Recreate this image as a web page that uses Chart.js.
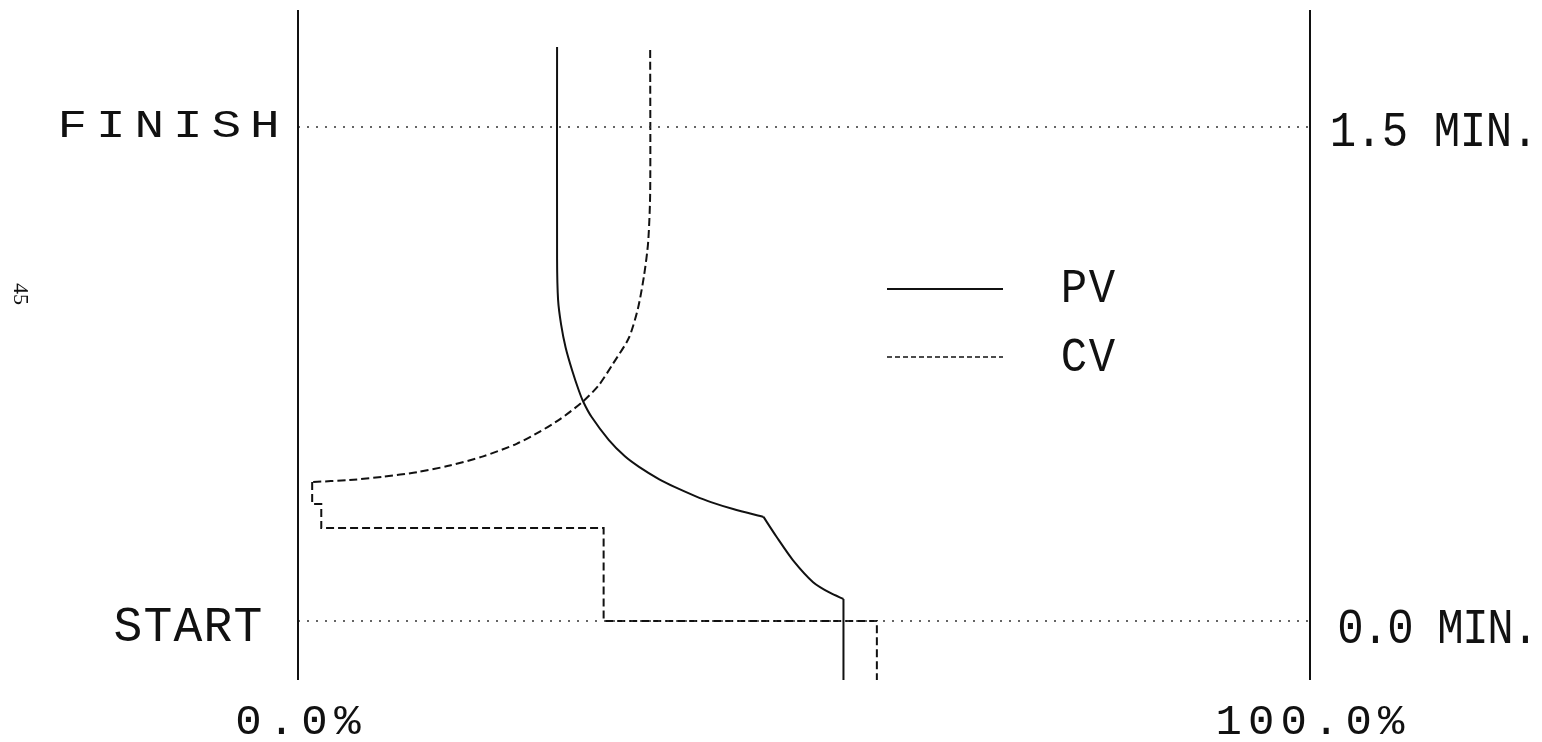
<!DOCTYPE html>
<html>
<head>
<meta charset="utf-8">
<title>PV / CV response</title>
<script src="https://cdn.jsdelivr.net/npm/chart.js@4.4.1/dist/chart.umd.min.js"></script>
<style>
  html, body { margin: 0; padding: 0; background: #ffffff; }
  #wrap { width: 1542px; height: 742px; }
  canvas { display: block; }
</style>
</head>
<body>
<div id="wrap"><canvas id="chart" width="1542" height="742"></canvas></div>
<script>
// Process variable (PV) trace: percent of span vs elapsed time in minutes
const pvPercent = [25.6, 25.6, 25.7, 26.0, 26.45, 27.1, 27.75, 28.2, 29.0, 30.7, 32.3, 33.7, 35.7, 37.2, 39.2, 40.8, 43.0, 46.0, 47.3, 48.9, 50.9, 52.6, 53.9, 53.9];
const pvMinutes = [1.743, 1.100, 0.975, 0.900, 0.830, 0.760, 0.700, 0.665, 0.620, 0.550, 0.500, 0.468, 0.430, 0.407, 0.380, 0.361, 0.340, 0.316, 0.255, 0.185, 0.118, 0.085, 0.067, -0.179];
// indices where the PV trace has a corner (smooth pieces run between them)
const pvCorners = [0, 17, 22, 23];

// Controller output (CV) trace
const cvPercent = [34.8, 34.8, 34.6, 34.2, 33.6, 32.7, 31.1, 29.7, 28.1, 25.9, 23.9, 21.6, 18.3, 15.0, 11.8, 8.4, 5.1, 1.4, 1.4, 2.3, 2.3, 30.2, 30.2, 57.2, 57.2];
const cvMinutes = [1.734, 1.300, 1.150, 1.050, 0.950, 0.860, 0.780, 0.715, 0.665, 0.613, 0.575, 0.538, 0.500, 0.472, 0.452, 0.438, 0.428, 0.422, 0.355, 0.355, 0.282, 0.282, 0.000, 0.000, -0.179];
// the curved part ends where the stepped part begins
const cvCorners = [0, 17, 24];

// Axis extents and marker times
const percentRange = [0, 100];
const minuteRange = [-0.1792, 1.8553];
const startMinute = 0.0;
const finishMinute = 1.5;

// Text drawn around the plot
const percentTickLabels = ['0.0%', '100.0%'];
const leftTimeLabels = ['START', 'FINISH'];
const rightTimeLabels = ['0.0 MIN.', '1.5 MIN.'];
const seriesNames = ['PV', 'CV'];
const pageNumber = '45';

const INK = '#111111';
const MONO = '"Liberation Mono", "DejaVu Sans Mono", monospace';

function toPoints(xs, ys, from, to) {
  const out = [];
  for (let i = from; i <= to; i++) out.push({ x: xs[i], y: ys[i] });
  return out;
}

// Draw text one glyph per fixed-width cell (typewriter style)
function drawCells(ctx, text, left, baseline, advance, size, stretchX, stretchY) {
  ctx.save();
  ctx.fillStyle = INK;
  ctx.font = size + 'px ' + MONO;
  ctx.textAlign = 'center';
  ctx.textBaseline = 'alphabetic';
  for (let i = 0; i < text.length; i++) {
    ctx.save();
    ctx.translate(left + advance * (i + 0.5), baseline);
    ctx.scale(stretchX, stretchY);
    ctx.fillText(text[i], 0, 0);
    ctx.restore();
  }
  ctx.restore();
}

const paperPlugin = {
  id: 'paper',
  beforeDraw(chart) {
    const ctx = chart.ctx;
    ctx.save();
    ctx.fillStyle = '#ffffff';
    ctx.fillRect(0, 0, chart.width, chart.height);
    ctx.restore();
  },
  afterDraw(chart) {
    const ctx = chart.ctx;
    const xs = chart.scales.x;
    const ys = chart.scales.y;
    const area = chart.chartArea;
    const x0 = xs.getPixelForValue(percentRange[0]);
    const x1 = xs.getPixelForValue(percentRange[1]);
    const yStart = ys.getPixelForValue(startMinute);
    const yFinish = ys.getPixelForValue(finishMinute);

    // side frame lines
    ctx.save();
    ctx.strokeStyle = INK;
    ctx.lineWidth = 2;
    ctx.beginPath();
    ctx.moveTo(x0, area.top);
    ctx.lineTo(x0, area.bottom);
    ctx.moveTo(x1, area.top);
    ctx.lineTo(x1, area.bottom);
    ctx.stroke();
    ctx.restore();

    // left marker labels
    drawCells(ctx, leftTimeLabels[0], x0 - 185, yStart + 20, 30, 48, 1.0, 1.05);
    drawCells(ctx, leftTimeLabels[1], x0 - 245, yFinish + 10, 38.5, 38, 1.3, 1.0);

    // right time labels
    drawCells(ctx, rightTimeLabels[0], x1 + 28, yStart + 22, 25, 44, 1.0, 1.15);
    drawCells(ctx, rightTimeLabels[1], x1 + 20, yFinish + 19, 26, 44, 1.0, 1.15);

    // percent labels under each side
    const pctBase = area.bottom + 54;
    drawCells(ctx, percentTickLabels[0], x0 - 4 * 33 / 2, pctBase, 33, 40, 1.1, 1.05);
    drawCells(ctx, percentTickLabels[1], x1 - 6 * 32.5 / 2, pctBase, 32.5, 40, 1.1, 1.05);

    // legend
    ctx.save();
    ctx.strokeStyle = INK;
    ctx.lineWidth = 1.8;
    ctx.beginPath();
    ctx.moveTo(887, 289);
    ctx.lineTo(1003, 289);
    ctx.stroke();
    ctx.setLineDash([5, 3]);
    ctx.lineWidth = 1.6;
    ctx.beginPath();
    ctx.moveTo(887, 357);
    ctx.lineTo(1003, 357);
    ctx.stroke();
    ctx.restore();
    drawCells(ctx, seriesNames[0], 1060, 302, 28, 44, 1.0, 1.1);
    drawCells(ctx, seriesNames[1], 1060, 371, 28, 44, 1.0, 1.1);

    // page number along the margin
    ctx.save();
    ctx.fillStyle = INK;
    ctx.font = '22px "Liberation Serif", serif';
    ctx.translate(20, 294);
    ctx.rotate(Math.PI / 2);
    ctx.textAlign = 'center';
    ctx.textBaseline = 'middle';
    ctx.fillText(pageNumber, 0, 0);
    ctx.restore();
  }
};

const dotted = { borderColor: '#333333', borderWidth: 1.5, borderDash: [2, 7], pointRadius: 0, showLine: true, tension: 0 };

function tracePieces(name, xs, ys, corners, dash, smooth) {
  const sets = [];
  for (let k = 0; k < corners.length - 1; k++) {
    sets.push({
      label: name,
      data: toPoints(xs, ys, corners[k], corners[k + 1]),
      showLine: true,
      borderColor: INK,
      borderWidth: 2,
      borderDash: dash,
      pointRadius: 0,
      tension: smooth[k] ? 0.25 : 0,
      borderJoinStyle: 'miter'
    });
  }
  return sets;
}

new Chart(document.getElementById('chart'), {
  type: 'scatter',
  data: {
    datasets: [
      Object.assign({ label: 'FINISH', data: toPoints(percentRange, [finishMinute, finishMinute], 0, 1) }, dotted),
      Object.assign({ label: 'START', data: toPoints(percentRange, [startMinute, startMinute], 0, 1) }, dotted)
    ].concat(
      tracePieces(seriesNames[0], pvPercent, pvMinutes, pvCorners, [], [true, true, false]),
      tracePieces(seriesNames[1], cvPercent, cvMinutes, cvCorners, [8, 4], [true, false])
    )
  },
  options: {
    responsive: false,
    animation: false,
    devicePixelRatio: 1,
    layout: { padding: { left: 298, right: 232, top: 10, bottom: 62 } },
    scales: {
      x: { type: 'linear', display: false, min: percentRange[0], max: percentRange[1] },
      y: { type: 'linear', display: false, min: minuteRange[0], max: minuteRange[1] }
    },
    plugins: {
      legend: { display: false },
      tooltip: { enabled: false }
    }
  },
  plugins: [paperPlugin]
});
</script>
</body>
</html>
